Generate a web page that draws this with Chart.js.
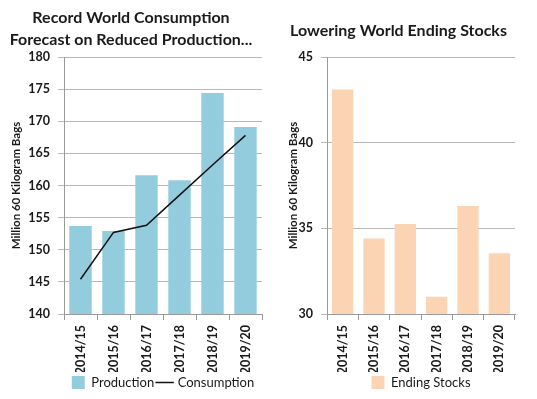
<!DOCTYPE html>
<html>
<head>
<meta charset="utf-8">
<script src="https://cdn.jsdelivr.net/npm/chart.js@4"></script>
<style>
  html, body { margin: 0; padding: 0; background: #fff; }
  #wrap { position: relative; width: 537px; height: 399px; overflow: hidden; }
  #c1 { position: absolute; left: 0; top: 0; }
  #c2 { position: absolute; left: 282px; top: 0; }
</style>
</head>
<body>
<div id="wrap">
  <canvas id="c1" width="268" height="399"></canvas>
  <canvas id="c2" width="243" height="399"></canvas>
</div>
<script>
// ---- data ----
const seasons = ["2014/15", "2015/16", "2016/17", "2017/18", "2018/19", "2019/20"];
const production = [153.7, 152.9, 161.6, 160.8, 174.4, 169.1];
const consumption = [145.4, 152.7, 153.8, 158.5, 163.2, 167.8];
const endingStocks = [43.1, 34.4, 35.25, 31.0, 36.3, 33.55];
const leftTitle = ["Record World Consumption", "Forecast on Reduced Production..."];
const rightTitle = "Lowering World Ending Stocks";
const yAxisTitle = "Million 60 Kilogram Bags";
const leftTicks = [140, 180, 5];
const rightTicks = [30, 45, 5];

const FONT = "Lato, 'Liberation Sans', sans-serif";
const TXT = "#1a1a1a";
const GRID = "#b8b8b8";
const AXIS = "#9a9a9a";

Chart.defaults.font.family = FONT;
Chart.defaults.color = TXT;
Chart.defaults.animation = false;

function xScale() {
  return {
    offset: true,
    grid: { display: true, drawOnChartArea: false, offset: true, tickLength: 6, color: AXIS },
    border: { color: AXIS },
    ticks: { maxRotation: 90, minRotation: 90, padding: 5, font: { size: 12.5, weight: "bold" }, color: TXT, autoSkip: false },
    afterFit: s => { s.height = 58; }
  };
}
function yScale(t, width, titlePad) {
  return {
    min: t[0], max: t[1],
    grid: { color: GRID, tickLength: 6 },
    border: { color: AXIS },
    ticks: { stepSize: t[2], padding: 8, font: { size: 12.5, weight: "bold" }, color: TXT },
    title: { display: true, text: yAxisTitle, font: { size: 11.5, weight: "bold" }, color: TXT, padding: { top: titlePad, bottom: 0 } },
    afterFit: s => { s.width = width; }
  };
}
function legendOpts() {
  return { position: "bottom", fullSize: false,
    labels: { usePointStyle: true, boxWidth: 14, boxHeight: 13, padding: 4, font: { size: 13 }, color: TXT,
              sort: (a, b) => a.datasetIndex - b.datasetIndex } };
}

new Chart(document.getElementById("c1"), {
  type: "bar",
  data: {
    labels: seasons,
    datasets: [
      { type: "bar", label: "Production", data: production, backgroundColor: "#93cddd", borderWidth: 0,
        barPercentage: 0.68, categoryPercentage: 1.0, order: 2, pointStyle: "rect" },
      { type: "line", label: "Consumption", data: consumption, borderColor: "#111", backgroundColor: "#111",
        borderWidth: 1.5, pointRadius: 0, tension: 0, order: 1, pointStyle: "line" }
    ]
  },
  options: {
    responsive: false,
    layout: { padding: { left: 0, right: 6, top: 0, bottom: 0 } },
    plugins: {
      title: { display: true, text: leftTitle, font: { size: 16, weight: "bold", lineHeight: "22px" }, color: TXT,
               padding: { top: 7, bottom: 6 } },
      legend: legendOpts(),
      tooltip: { enabled: false }
    },
    scales: { x: xScale(), y: yScale(leftTicks, 64, 9) }
  }
});

new Chart(document.getElementById("c2"), {
  type: "bar",
  data: {
    labels: seasons,
    datasets: [
      { label: "Ending Stocks", data: endingStocks, backgroundColor: "#fbd4b4", borderWidth: 0,
        barPercentage: 0.68, categoryPercentage: 1.0, pointStyle: "rect" }
    ]
  },
  options: {
    responsive: false,
    layout: { padding: { left: 0, right: 10, top: 0, bottom: 0 } },
    plugins: {
      title: { display: true, text: rightTitle, font: { size: 16, weight: "bold", lineHeight: "20px" }, color: TXT,
               padding: { top: 21, bottom: 16 } },
      legend: legendOpts(),
      tooltip: { enabled: false }
    },
    scales: { x: xScale(), y: yScale(rightTicks, 45, 4) }
  }
});
</script>
</body>
</html>
